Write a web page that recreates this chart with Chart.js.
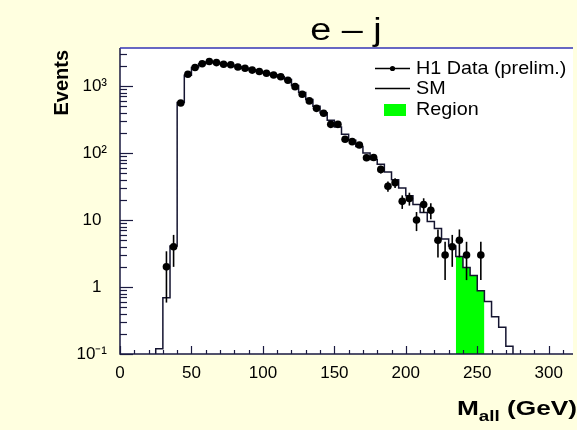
<!DOCTYPE html>
<html>
<head>
<meta charset="utf-8">
<script src="https://cdn.jsdelivr.net/npm/chart.js@4.4.1/dist/chart.umd.min.js"></script>
<style>
  html, body { margin: 0; padding: 0; background: #ffffe0; }
  #wrap { width: 577px; height: 430px; }
</style>
</head>
<body>
<div id="wrap"><canvas id="mall"></canvas></div>
<script>
// SM prediction, 5 GeV bins (lower edges)
const smEdges = [25, 30, 35, 40, 45, 50, 55, 60, 65, 70, 75, 80, 85, 90, 95, 100, 105, 110, 115, 120,
  125, 130, 135, 140, 145, 150, 155, 160, 165, 170, 175, 180, 185, 190, 195, 200, 205, 210, 215, 220,
  225, 230, 235, 240, 245, 250, 255, 260, 265, 270];
const smValues = [0.12, 0.69, 4.1, 570, 1450, 1900, 2150, 2280, 2250, 2150, 2050, 1950, 1850, 1750, 1650, 1560, 1470, 1380, 1250, 1020,
  800, 630, 500, 400, 310, 245, 190, 155, 125, 100, 80, 68, 52, 40, 30, 23, 17, 13, 9.5, 7.5,
  5.2, 4.1, 2.85, 1.95, 1.48, 0.88, 0.61, 0.36, 0.25, 0.13];

// H1 data (bin centres, counts)
const dataCenters = [32.5, 37.5, 42.5, 47.5, 52.5, 57.5, 62.5, 67.5, 72.5, 77.5, 82.5, 87.5, 92.5, 97.5, 102.5, 107.5, 112.5, 117.5,
  122.5, 127.5, 132.5, 137.5, 142.5, 147.5, 152.5, 157.5, 162.5, 167.5, 172.5, 177.5, 182.5, 187.5, 192.5, 197.5, 202.5,
  207.5, 212.5, 217.5, 222.5, 227.5, 232.5, 237.5, 242.5, 252.5];
const dataCounts = [2, 4, 560, 1500, 1890, 2150, 2330, 2240, 2120, 2080, 1930, 1840, 1730, 1650, 1550, 1460, 1380, 1220,
  980, 755, 600, 465, 392, 268, 268, 161, 148, 132, 85, 86, 57, 32, 36, 19, 21,
  10, 17, 14, 5, 3, 4, 5, 3, 3];

// search region (SM content in the selected bins)
const regionEdges = [235, 240, 245, 250];
const regionValues = [2.85, 1.95, 1.48, 0.88];

const xTickValues = [0, 50, 100, 150, 200, 250, 300];
const yTickValues = [0.1, 1, 10, 100, 1000];
// plain labels get a small trailing space so the superscripts stick out to the right like in ROOT
const yTickLabels = ["10\u207B\u00B9", "1\u2004", "10\u2004", "10\u00B2", "10\u00B3"];

const Y_MIN = 0.1, Y_MAX = 3700, X_MAX = 317, BIN = 5;

// step outline points
const smPoints = [{ x: smEdges[0], y: Y_MIN }];
smEdges.forEach((e, i) => smPoints.push({ x: e, y: smValues[i] }));
smPoints.push({ x: smEdges[smEdges.length - 1] + BIN, y: Y_MIN });

const regionPoints = regionEdges.map((e, i) => ({ x: e, y: regionValues[i] }));
regionPoints.push({ x: regionEdges[regionEdges.length - 1] + BIN, y: regionValues[regionValues.length - 1] });

const dataPoints = dataCenters.map((c, i) => ({ x: c, y: dataCounts[i] }));

const FONT = '"Liberation Sans", Arial, Helvetica, sans-serif';
const AXIS_COLOR = '#1a1a40';

// text squeezed/stretched horizontally, left aligned at x
function wideText(ctx, str, x, y, sx) {
  ctx.save();
  ctx.translate(x, y);
  ctx.scale(sx, 1);
  ctx.fillText(str, 0, 0);
  ctx.restore();
}

const backdrop = {
  id: 'backdrop',
  beforeDraw(chart) {
    const { ctx, chartArea: a } = chart;
    ctx.save();
    ctx.fillStyle = '#ffffe0';
    ctx.fillRect(0, 0, chart.width, chart.height);
    ctx.fillStyle = '#ffffff';
    ctx.fillRect(a.left, a.top, a.right - a.left, a.bottom - a.top);
    ctx.restore();
  }
};

const errorBars = {
  id: 'errorBars',
  afterDatasetsDraw(chart) {
    const { ctx, chartArea: a, scales: { x, y } } = chart;
    ctx.save();
    ctx.beginPath();
    ctx.rect(a.left, a.top, a.right - a.left, a.bottom - a.top);
    ctx.clip();
    ctx.strokeStyle = '#000';
    ctx.lineWidth = 1.6;
    dataCenters.forEach((c, i) => {
      const n = dataCounts[i], e = Math.sqrt(n);
      const px = x.getPixelForValue(c);
      ctx.beginPath();
      ctx.moveTo(px, y.getPixelForValue(n + e));
      ctx.lineTo(px, y.getPixelForValue(Math.max(n - e, Y_MIN)));
      ctx.stroke();
    });
    ctx.restore();
  }
};

const frame = {
  id: 'frame',
  afterDraw(chart) {
    const { ctx, chartArea: a, scales: { x, y } } = chart;
    ctx.save();
    // axes
    ctx.lineWidth = 1.5;
    ctx.strokeStyle = AXIS_COLOR;
    ctx.beginPath();
    ctx.moveTo(a.left, a.top);
    ctx.lineTo(a.left, a.bottom);
    ctx.lineTo(a.right, a.bottom);
    ctx.stroke();
    ctx.strokeStyle = '#3535b5';
    ctx.beginPath();
    ctx.moveTo(a.left, a.top);
    ctx.lineTo(a.right, a.top);
    ctx.stroke();

    // ticks, drawn inside the frame
    ctx.strokeStyle = AXIS_COLOR;
    ctx.lineWidth = 1.2;
    for (let p = -1; p <= 3; p++) {
      for (let k = 1; k <= 9; k++) {
        const v = k * Math.pow(10, p);
        if (v < Y_MIN || v > Y_MAX) continue;
        const py = Math.round(y.getPixelForValue(v)) + 0.5;
        ctx.beginPath();
        ctx.moveTo(a.left, py);
        ctx.lineTo(a.left + (k === 1 ? 13 : 7), py);
        ctx.stroke();
      }
    }
    for (let v = 0; v <= X_MAX; v += 10) {
      const px = Math.round(x.getPixelForValue(v)) + 0.5;
      ctx.beginPath();
      ctx.moveTo(px, a.bottom);
      ctx.lineTo(px, a.bottom - (v % 50 === 0 ? 8 : 4));
      ctx.stroke();
    }

    // title
    ctx.fillStyle = '#000';
    ctx.font = '31px ' + FONT;
    ctx.textAlign = 'left';
    ctx.textBaseline = 'alphabetic';
    const title = 'e \u2013 j', tsx = 1.22;
    const tw = ctx.measureText(title).width * tsx;
    wideText(ctx, title, 346 - tw / 2, 40, tsx);

    // y title
    ctx.save();
    ctx.translate(62, 50);
    ctx.rotate(-Math.PI / 2);
    ctx.font = 'bold 20px ' + FONT;
    ctx.textAlign = 'right';
    ctx.textBaseline = 'middle';
    ctx.fillText('Events', 0, 0);
    ctx.restore();

    // x title with subscript
    const sx = 1.25;
    const big = 'bold 21px ' + FONT, small = 'bold 15px ' + FONT;
    ctx.font = big;
    const wM = ctx.measureText('M').width * sx;
    const wRest = ctx.measureText(' (GeV)').width * sx;
    ctx.font = small;
    const wSub = ctx.measureText('all').width * sx;
    let tx = 577 - (wM + wSub + wRest);
    ctx.font = big;
    wideText(ctx, 'M', tx, 415, sx);
    tx += wM;
    ctx.font = small;
    wideText(ctx, 'all', tx, 421, sx);
    tx += wSub;
    ctx.font = big;
    wideText(ctx, ' (GeV)', tx, 415, sx);

    // legend
    ctx.font = '19px ' + FONT;
    ctx.textBaseline = 'middle';
    ctx.strokeStyle = '#000';
    ctx.lineWidth = 1.3;
    ctx.beginPath();
    ctx.moveTo(375, 68.5); ctx.lineTo(410, 68.5);
    ctx.moveTo(375, 88.5); ctx.lineTo(410, 88.5);
    ctx.stroke();
    ctx.beginPath();
    ctx.arc(392.5, 68.5, 2.6, 0, Math.PI * 2);
    ctx.fill();
    ctx.fillStyle = '#00ff00';
    ctx.fillRect(384, 104, 22, 12);
    ctx.fillStyle = '#000';
    wideText(ctx, 'H1 Data (prelim.)', 416, 69, 1.04);
    wideText(ctx, 'SM', 416, 89, 1.04);
    wideText(ctx, 'Region', 416, 110, 1.04);
    ctx.restore();
  }
};

new Chart(document.getElementById('mall'), {
  type: 'line',
  data: {
    datasets: [
      {
        label: 'Region',
        data: regionPoints,
        stepped: 'before',
        fill: 'start',
        backgroundColor: '#00ff00',
        borderWidth: 0,
        pointRadius: 0,
        order: 3,
      },
      {
        label: 'SM',
        data: smPoints,
        stepped: 'before',
        fill: false,
        borderColor: '#141430',
        borderWidth: 1.5,
        pointRadius: 0,
        order: 2,
      },
      {
        label: 'H1 Data (prelim.)',
        data: dataPoints,
        showLine: false,
        pointRadius: 3.8,
        pointBackgroundColor: '#000',
        pointBorderColor: '#000',
        pointBorderWidth: 0,
        order: 1,
      },
    ],
  },
  options: {
    responsive: true,
    maintainAspectRatio: false,
    animation: false,
    layout: { padding: { top: 48, right: 0, bottom: 0, left: 0 } },
    plugins: {
      legend: { display: false },
      title: { display: false },
      tooltip: { enabled: false },
    },
    scales: {
      x: {
        type: 'linear',
        min: 0,
        max: X_MAX,
        grid: { display: false },
        border: { display: false },
        afterBuildTicks: (s) => { s.ticks = xTickValues.map((v) => ({ value: v })); },
        afterFit: (s) => { s.height = 76; },
        ticks: {
          autoSkip: false,
          maxRotation: 0,
          padding: 1,
          color: '#000',
          font: { family: FONT, size: 17 },
        },
      },
      y: {
        type: 'logarithmic',
        min: Y_MIN,
        max: Y_MAX,
        grid: { display: false },
        border: { display: false },
        afterBuildTicks: (s) => { s.ticks = yTickValues.map((v) => ({ value: v })); },
        afterFit: (s) => { s.width = 120; },
        ticks: {
          autoSkip: false,
          padding: 5,
          color: '#000',
          font: { family: FONT, size: 17 },
          callback: (v, i) => yTickLabels[i],
        },
      },
    },
  },
  plugins: [backdrop, errorBars, frame],
});
</script>
</body>
</html>
